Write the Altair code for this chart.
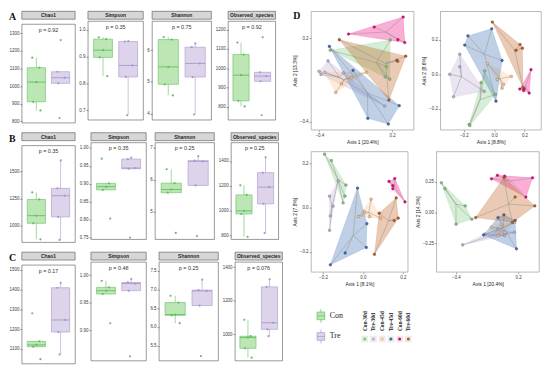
import altair as alt
import numpy as np
import pandas as pd

FONT = "Liberation Sans"
SERIF = "Liberation Serif"

# ---------------- alpha diversity data ----------------
METRICS = ["Chao1", "Simpson", "Shannon", "Observed_species"]
GROUPS = ["Con", "Tre"]

A_CHAO1_CON = [862, 911, 1023, 1105, 1162]
A_CHAO1_TRE = [818, 1016, 1048, 1082, 1262]
A_SIMPSON_CON = [0.827, 0.897, 0.924, 0.965, 0.972]
A_SIMPSON_TRE = [0.681, 0.824, 0.867, 0.956, 0.958]
A_SHANNON_CON = [4.57, 4.92, 5.47, 6.33, 6.41]
A_SHANNON_TRE = [3.97, 5.15, 5.58, 6.09, 6.21]
A_OBS_CON = [802, 831, 964, 1071, 1133]
A_OBS_TRE = [756, 932, 959, 979, 1161]
A_P = ["0.92", "0.35", "0.75", "0.92"]

B_CHAO1_CON = [871, 1020, 1091, 1241, 1306]
B_CHAO1_TRE = [866, 1079, 1276, 1344, 1603]
B_SIMPSON_CON = [0.803, 0.883, 0.892, 0.901, 0.970]
B_SIMPSON_TRE = [0.750, 0.942, 0.944, 0.969, 0.973]
B_SHANNON_CON = [4.32, 5.59, 5.69, 5.89, 6.33]
B_SHANNON_TRE = [4.22, 5.82, 6.58, 6.60, 6.74]
B_OBS_CON = [792, 975, 1000, 1128, 1205]
B_OBS_TRE = [822, 1056, 1190, 1306, 1428]
B_P = ["0.35", "0.35", "0.25", "0.25"]

C_CHAO1_CON = [1048, 1111, 1120, 1138, 1280]
C_CHAO1_TRE = [1072, 1185, 1246, 1409, 1434]
C_SIMPSON_CON = [0.913, 0.966, 0.972, 0.978, 0.990]
C_SIMPSON_TRE = [0.853, 0.972, 0.985, 0.987, 0.993]
C_SHANNON_CON = [6.10, 6.31, 6.33, 6.65, 6.83]
C_SHANNON_TRE = [5.22, 6.57, 6.96, 6.98, 7.26]
C_OBS_CON = [861, 917, 981, 989, 1087]
C_OBS_TRE = [989, 1030, 1069, 1283, 1328]
C_P = ["0.17", "0.48", "0.25", "0.076"]

A_TICKS = [[800, 900, 1000, 1100, 1200, 1300], [0.7, 0.8, 0.9, 1.0], [4, 5, 6], [800, 900, 1000, 1100, 1200]]
B_TICKS = [[1000, 1250, 1500], [0.75, 0.80, 0.85, 0.90, 0.95, 1.00], [5, 6, 7], [800, 1000, 1200, 1400]]
C_TICKS = [[1100, 1200, 1300, 1400, 1500], [0.90, 0.95, 1.00], [5.5, 6.0, 6.5, 7.0, 7.5], [1000, 1200, 1400]]
A_DOMAINS = [[791, 1353], [0.664, 1.032], [3.80, 6.91], [732, 1244]]
B_DOMAINS = [[844, 1741], [0.745, 1.015], [4.12, 7.17], [772, 1547]]
C_DOMAINS = [[1025, 1524], [0.845, 1.024], [5.10, 7.73], [843, 1431]]
A_FMT = ["d", ".1f", "d", "d"]
B_FMT = ["d", ".2f", "d", "d"]
C_FMT = ["d", ".2f", ".1f", "d"]

# ---------------- PCoA data ----------------
PC_GROUPS = ["Con-30d", "Tre-30d", "Con-45d", "Tre-45d", "Con-60d", "Tre-60d"]
PC_COLORS = ["#7fc97f", "#beaed4", "#fdc086", "#386cb0", "#f0027f", "#bf5b17"]

P1_X = {"Con-30d": [-0.309, 0.185, 0.143, 0.180, 0.153],
        "Tre-30d": [-0.328, -0.402, -0.386, 0.140, -0.200],
        "Con-45d": [-0.264, -0.354, -0.011, -0.137, -0.217],
        "Tre-45d": [-0.317, -0.122, 0.000, 0.169, 0.259],
        "Con-60d": [-0.159, 0.053, 0.291, 0.248, 0.304],
        "Tre-60d": [-0.235, 0.240, 0.246, 0.312, 0.174]}
P1_Y = {"Con-30d": [0.113, 0.186, -0.079, -0.095, -0.005],
        "Tre-30d": [0.036, -0.039, -0.061, -0.288, -0.050],
        "Con-45d": [-0.190, -0.045, -0.045, -0.084, -0.129],
        "Tre-45d": [0.140, -0.032, -0.376, -0.417, -0.285],
        "Con-60d": [0.229, 0.279, 0.351, 0.188, 0.168],
        "Tre-60d": [0.188, 0.041, 0.034, 0.070, -0.245]}

P2_X = {"Con-30d": [-0.062, -0.087, -0.165, -0.160, 0.010],
        "Tre-30d": [-0.227, -0.227, -0.293, -0.268, -0.066],
        "Con-45d": [-0.045, 0.113, 0.052, 0.062, 0.020],
        "Tre-45d": [-0.016, -0.173, -0.194, 0.052, 0.012],
        "Con-60d": [0.243, 0.169, 0.198, 0.194, 0.231],
        "Tre-60d": [-0.012, 0.171, 0.186, 0.144, 0.190]}
P2_Y = {"Con-30d": [0.020, -0.048, -0.290, -0.295, -0.116],
        "Tre-30d": [0.116, 0.044, 0.000, -0.130, -0.098],
        "Con-45d": [0.062, -0.012, -0.080, -0.059, -0.030],
        "Tre-45d": [0.263, 0.222, 0.169, 0.080, -0.155],
        "Con-60d": [0.027, -0.085, -0.084, -0.094, -0.108],
        "Tre-60d": [0.302, 0.172, 0.151, 0.139, -0.076]}

P3_X = {"Con-30d": [-0.192, -0.158, -0.085, -0.090, -0.099],
        "Tre-30d": [-0.167, -0.150, -0.163, -0.167, -0.124],
        "Con-45d": [0.041, -0.022, 0.034, 0.089, 0.007],
        "Tre-45d": [-0.027, 0.020, 0.017, -0.089, -0.163],
        "Con-60d": [0.131, 0.160, 0.150, 0.150, 0.211],
        "Tre-60d": [0.082, 0.167, 0.157, 0.177, 0.058]}
P3_Y = {"Con-30d": [0.240, 0.211, 0.101, 0.051, 0.021],
        "Tre-30d": [0.051, 0.006, -0.038, -0.103, 0.120],
        "Con-45d": [0.037, -0.041, -0.041, -0.048, -0.019],
        "Tre-45d": [0.087, -0.073, -0.180, -0.205, -0.258],
        "Con-60d": [0.117, 0.130, 0.098, 0.084, 0.025],
        "Tre-60d": [-0.026, 0.043, -0.059, -0.048, -0.211]}

P4_X = {"Con-30d": [-0.541, -0.506, -0.399, -0.247, -0.310],
        "Tre-30d": [-0.335, 0.070, 0.165, 0.006, -0.120],
        "Con-45d": [0.006, 0.070, 0.038, 0.165, -0.057],
        "Tre-45d": [0.006, 0.063, 0.171, -0.133, 0.184],
        "Con-60d": [-0.057, 0.000, 0.070, 0.339, 0.275],
        "Tre-60d": [0.063, 0.171, 0.361, -0.209, 0.146]}
P4_Y = {"Con-30d": [0.243, 0.195, -0.095, -0.054, 0.054],
        "Tre-30d": [-0.265, -0.189, -0.162, -0.135, -0.176],
        "Con-45d": [-0.189, -0.162, -0.095, -0.081, -0.122],
        "Tre-45d": [-0.041, -0.019, -0.065, -0.184, -0.297],
        "Con-60d": [0.276, 0.305, 0.297, 0.284, 0.127],
        "Tre-60d": [0.286, 0.127, 0.054, -0.041, -0.081]}

# ---------------- styles ----------------
CON_FILL, CON_LINE = "#bde6b5", "#63bf62"
TRE_FILL, TRE_LINE = "#ddd4ec", "#a797cc"
FILLS = {"Con": CON_FILL, "Tre": TRE_FILL}
LINES = {"Con": CON_LINE, "Tre": TRE_LINE}
PANEL_W = [54, 56, 60, 48]
ROW_H = [100, 98, 100]


def yaxis(ticks, fmt):
    return alt.Axis(values=ticks, format=fmt, title=None, grid=False, domain=False,
                    labelFontSize=4.5, labelColor="#3a3a3a", labelPadding=1,
                    tickSize=2, tickColor="#3a3a3a", tickWidth=0.5)


def box_panel(con, tre, metric, p, dom, ticks, fmt, w, h, letter=None):
    stats, pts = [], []
    for g, vals, pos in (("Con", con, 1.0), ("Tre", tre, 2.0)):
        v = np.array(vals, dtype=float)
        q1, med, q3 = np.percentile(v, [25, 50, 75])
        iqr = q3 - q1
        inside = v[(v >= q1 - 1.5 * iqr) & (v <= q3 + 1.5 * iqr)]
        stats.append(dict(g=g, pos=pos, xl=pos - 0.375, xr=pos + 0.375, q1=q1, med=med, q3=q3,
                          wlo=inside.min(), whi=inside.max(), fillc=FILLS[g], linec=LINES[g]))
        jit = 0.17 * np.sin(2.3 * np.arange(len(v)) + 1.7 * pos)
        for val, j in zip(v, jit):
            pts.append(dict(g=g, xj=pos + j, v=val, linec=LINES[g]))
    sdf, pdf = pd.DataFrame(stats), pd.DataFrame(pts)
    xs = alt.Scale(domain=[0.4, 2.6], nice=False, zero=False)
    ys = alt.Scale(domain=dom, nice=False, zero=False)
    yax = yaxis(ticks, fmt)
    base = alt.Chart(sdf)
    whisk = base.mark_rule(strokeWidth=0.6).encode(
        x=alt.X("pos:Q", scale=xs, axis=None),
        y=alt.Y("wlo:Q", scale=ys, axis=yax), y2="whi:Q",
        stroke=alt.Stroke("linec:N", scale=None))
    box = base.mark_rect(strokeWidth=0.6).encode(
        x=alt.X("xl:Q", scale=xs, axis=None), x2="xr:Q",
        y=alt.Y("q1:Q", scale=ys, axis=yax), y2="q3:Q",
        fill=alt.Fill("fillc:N", scale=None), stroke=alt.Stroke("linec:N", scale=None))
    med = base.mark_rule(strokeWidth=0.9).encode(
        x=alt.X("xl:Q", scale=xs, axis=None), x2="xr:Q",
        y=alt.Y("med:Q", scale=ys, axis=yax),
        stroke=alt.Stroke("linec:N", scale=None))
    dots = alt.Chart(pdf).mark_circle(size=5, opacity=1).encode(
        x=alt.X("xj:Q", scale=xs, axis=None),
        y=alt.Y("v:Q", scale=ys, axis=yax),
        fill=alt.Fill("linec:N", scale=None))
    ptxt = alt.Chart(alt.Data(values=[{"t": f"p = {p}"}])).mark_text(
        fontSize=5.5, color="#333333", baseline="middle").encode(text="t:N", y=alt.value(6))
    panel = alt.layer(whisk, box, med, dots, ptxt).properties(
        width=w, height=h, view=alt.ViewBackground(fill="white", stroke="#555555", strokeWidth=0.6))
    strip_layers = [alt.Chart(alt.Data(values=[{"t": metric}])).mark_text(
        fontSize=5, fontWeight="bold", color="#222222", baseline="middle").encode(text="t:N")]
    if letter:
        strip_layers.append(alt.Chart(alt.Data(values=[{"t": letter}])).mark_text(
            font=SERIF, fontSize=10, fontWeight="bold", color="#111111", align="left",
            baseline="middle").encode(text="t:N", x=alt.value(-13), y=alt.value(6)))
    strip = alt.layer(*strip_layers).properties(
        width=w, height=8, view=alt.ViewBackground(fill="#d6d6d6", stroke="#333333", strokeWidth=0.5))
    return alt.vconcat(strip, panel, spacing=0)


def row(letter, data, pvals, domains, ticks, fmts, h):
    panels = []
    for i, m in enumerate(METRICS):
        con, tre = data[i]
        panels.append(box_panel(con, tre, m, pvals[i], domains[i], ticks[i], fmts[i],
                                PANEL_W[i], h, letter if i == 0 else None))
    return alt.hconcat(*panels, spacing=2)


rowA = row("A", [(A_CHAO1_CON, A_CHAO1_TRE), (A_SIMPSON_CON, A_SIMPSON_TRE),
                 (A_SHANNON_CON, A_SHANNON_TRE), (A_OBS_CON, A_OBS_TRE)],
           A_P, A_DOMAINS, A_TICKS, A_FMT, ROW_H[0])
rowB = row("B", [(B_CHAO1_CON, B_CHAO1_TRE), (B_SIMPSON_CON, B_SIMPSON_TRE),
                 (B_SHANNON_CON, B_SHANNON_TRE), (B_OBS_CON, B_OBS_TRE)],
           B_P, B_DOMAINS, B_TICKS, B_FMT, ROW_H[1])
rowC = row("C", [(C_CHAO1_CON, C_CHAO1_TRE), (C_SIMPSON_CON, C_SIMPSON_TRE),
                 (C_SHANNON_CON, C_SHANNON_TRE), (C_OBS_CON, C_OBS_TRE)],
           C_P, C_DOMAINS, C_TICKS, C_FMT, ROW_H[2])
left = alt.vconcat(rowA, rowB, rowC, spacing=8)

# ---------------- PCoA panels ----------------
cs = alt.Scale(domain=PC_GROUPS, range=PC_COLORS)


def hull(points):
    pts = sorted(set(points))
    if len(pts) <= 2:
        return pts

    def cross(o, a, b):
        return (a[0] - o[0]) * (b[1] - o[1]) - (a[1] - o[1]) * (b[0] - o[0])
    lower, upper = [], []
    for p in pts:
        while len(lower) >= 2 and cross(lower[-2], lower[-1], p) <= 0:
            lower.pop()
        lower.append(p)
    for p in reversed(pts):
        while len(upper) >= 2 and cross(upper[-2], upper[-1], p) <= 0:
            upper.pop()
        upper.append(p)
    return lower[:-1] + upper[:-1]


def pcoa(px, py, xdom, ydom, xt, yt, xfmt, yfmt, xtitle, ytitle, w, h, tag=None):
    recs, polys = [], []
    for g in PC_GROUPS:
        gx, gy = px[g], py[g]
        cx, cy = float(np.mean(gx)), float(np.mean(gy))
        for a, b in zip(gx, gy):
            recs.append(dict(g=g, x=a, y=b, cx=cx, cy=cy))
        hl = hull(list(zip(gx, gy)))
        hl = hl + [hl[0]]
        for i, (a, b) in enumerate(hl):
            polys.append(dict(g=g, x=a, y=b, i=i))
    df, pdf = pd.DataFrame(recs), pd.DataFrame(polys)
    ax_common = dict(grid=False, domain=False, labelFontSize=4.5, labelColor="#3a3a3a",
                     labelPadding=1, tickSize=2, tickColor="#555555", tickWidth=0.5,
                     titleFontSize=5, titleFontWeight="normal", titleColor="#222222",
                     titlePadding=2)
    X = alt.X("x:Q", scale=alt.Scale(domain=xdom, nice=False, zero=False),
              axis=alt.Axis(values=xt, format=xfmt, title=xtitle, **ax_common))
    Y = alt.Y("y:Q", scale=alt.Scale(domain=ydom, nice=False, zero=False),
              axis=alt.Axis(values=yt, format=yfmt, title=ytitle, **ax_common))
    poly = alt.Chart(pdf).mark_line(fillOpacity=0.32, strokeOpacity=0.35, strokeWidth=0.5).encode(
        x=X, y=Y, color=alt.Color("g:N", scale=cs, legend=None),
        fill=alt.Fill("g:N", scale=cs, legend=None), order="i:Q")
    spider = alt.Chart(df).mark_rule(color="#8c8c8c", strokeWidth=0.5, opacity=0.9).encode(
        x=alt.X("cx:Q", scale=alt.Scale(domain=xdom, nice=False, zero=False)),
        y=alt.Y("cy:Q", scale=alt.Scale(domain=ydom, nice=False, zero=False)),
        x2="x:Q", y2="y:Q")
    pts = alt.Chart(df).mark_circle(size=8, opacity=1, stroke="#333333", strokeWidth=0.25).encode(
        x=X, y=Y, color=alt.Color("g:N", scale=cs, legend=None))
    layers = [poly, spider, pts]
    if tag:
        layers.append(alt.Chart(alt.Data(values=[{"t": tag}])).mark_text(
            font=SERIF, fontSize=10, fontWeight="bold", color="#111111", align="left",
            baseline="middle").encode(text="t:N", x=alt.value(-18), y=alt.value(5)))
    return alt.layer(*layers).properties(
        width=w, height=h, view=alt.ViewBackground(fill="white", stroke="#9a9a9a", strokeWidth=0.7))


p1 = pcoa(P1_X, P1_Y, [-0.468, 0.378], [-0.458, 0.392], [-0.4, -0.2, 0.0, 0.2], [-0.4, -0.2, 0.0, 0.2],
          ".1f", ".1f", "Axis 1 [20.4%]", "Axis 2 [13.3%]", 104, 120, tag="D")
p2 = pcoa(P2_X, P2_Y, [-0.355, 0.309], [-0.32, 0.364], [-0.2, 0.0, 0.2], [-0.2, 0.0, 0.2],
          ".1f", ".1f", "Axis 1 [8.8%]", "Axis 2 [8.6%]", 102, 120)
p3 = pcoa(P3_X, P3_Y, [-0.26, 0.225], [-0.29, 0.252], [-0.2, -0.1, 0.0, 0.1, 0.2],
          [-0.2, -0.1, 0.0, 0.1, 0.2], ".1f", ".1f", "Axis 1 [8.1%]", "Axis 2 [7.8%]", 98, 122)
p4 = pcoa(P4_X, P4_Y, [-0.589, 0.402], [-0.486, 0.5], [-0.4, -0.2, 0.0, 0.2], [-0.25, 0.0, 0.25],
          ".1f", ".2f", "Axis 1 [20.4%]", "Axis 2 [14.3%]", 104, 122)

# ---------------- legends ----------------
leg1_df = pd.DataFrame({"g": GROUPS})
ly = alt.Y("g:N", axis=None, scale=alt.Scale(domain=GROUPS, type="point", padding=0.7))
leg1_layers = []
for g in GROUPS:
    sub = alt.Chart(leg1_df).transform_filter(alt.datum.g == g)
    leg1_layers.append(sub.mark_rule(color=LINES[g], strokeWidth=0.7, yOffset=1, y2Offset=15).encode(
        y=ly, y2="g:N", x=alt.value(10)))
    leg1_layers.append(sub.mark_square(size=60, fill=FILLS[g], stroke=LINES[g], strokeWidth=0.7,
                                       opacity=1, yOffset=8).encode(y=ly, x=alt.value(10)))
    leg1_layers.append(sub.mark_rule(color=LINES[g], strokeWidth=0.7, yOffset=8).encode(
        y=ly, x=alt.value(6), x2=alt.value(14)))
leg1_layers.append(alt.Chart(leg1_df).mark_text(font=SERIF, fontSize=8, color="#222222",
                                                align="left", baseline="middle", yOffset=8).encode(
    y=ly, x=alt.value(19), text="g:N"))
leg1 = alt.layer(*leg1_layers).properties(
    width=40, height=50, view=alt.ViewBackground(stroke="transparent"))

leg2_df = pd.DataFrame({"g": PC_GROUPS})
gx = alt.X("g:N", axis=None, sort=PC_GROUPS, scale=alt.Scale(domain=PC_GROUPS, type="point", padding=0.5))
leg2 = alt.layer(
    alt.Chart(leg2_df).mark_square(size=45, color="#ececec", opacity=1).encode(x=gx, y=alt.value(46)),
    alt.Chart(leg2_df).mark_circle(size=10, opacity=1).encode(
        x=gx, y=alt.value(46), color=alt.Color("g:N", scale=cs, legend=None)),
    alt.Chart(leg2_df).mark_text(angle=270, align="left", baseline="middle", font=SERIF, fontSize=5.5,
                                 fontWeight="bold", color="#222222").encode(
        x=gx, y=alt.value(38), text="g:N"),
).properties(width=53, height=50, view=alt.ViewBackground(stroke="transparent"))

legend_row = alt.hconcat(leg1, leg2, spacing=8)

right = alt.vconcat(alt.hconcat(p1, p2, spacing=6), alt.hconcat(p3, p4, spacing=6), legend_row, spacing=6)

chart = alt.hconcat(left, right, spacing=8).resolve_scale(
    color="independent", fill="independent", stroke="independent"
).properties(padding=0).configure(font=FONT).configure_view(stroke="#555555", strokeWidth=0.6)

chart.save("out.html", embed_options={"renderer": "svg", "actions": False})
